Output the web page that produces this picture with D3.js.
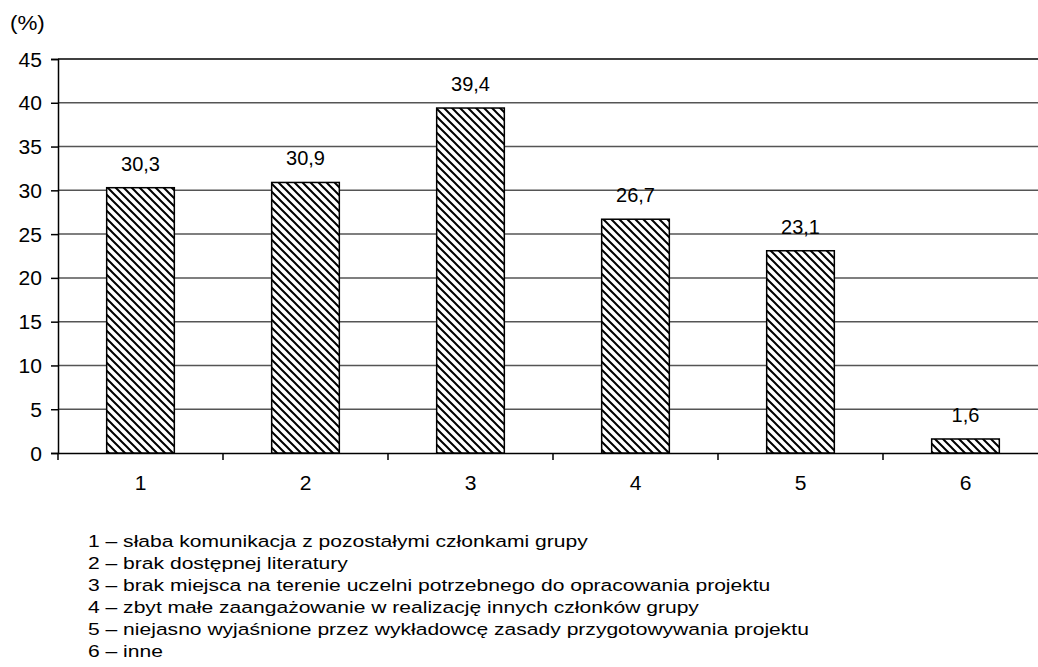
<!DOCTYPE html>
<html>
<head>
<meta charset="utf-8">
<script src="https://cdn.jsdelivr.net/npm/d3@7"></script>
<style>
  body { margin: 0; background: #fff; }
  svg { font-family: "Liberation Sans", Arial, sans-serif; }
</style>
</head>
<body>
<svg id="chart" width="1038" height="667"></svg>
<script>
// data
var categories = ["1", "2", "3", "4", "5", "6"];
var values = [30.3, 30.9, 39.4, 26.7, 23.1, 1.6];
var yTicks = [0, 5, 10, 15, 20, 25, 30, 35, 40, 45];
var legendItems = [
  "1 – słaba komunikacja z pozostałymi członkami grupy",
  "2 – brak dostępnej literatury",
  "3 – brak miejsca na terenie uczelni potrzebnego do opracowania projektu",
  "4 – zbyt małe zaangażowanie w realizację innych członków grupy",
  "5 – niejasno wyjaśnione przez wykładowcę zasady przygotowywania projektu",
  "6 – inne"
];

var svg = d3.select("#chart"),
  mLeft = 58, mRight = 1048, mTop = 59, mBottom = 453;

var x = d3.scaleBand().domain(categories).range([mLeft, mRight]).paddingInner(0.59).paddingOuter(0.295);
var band = d3.scaleBand().domain(categories).range([mLeft, mRight]);
var y = d3.scaleLinear().domain([0, 45]).range([mBottom, mTop]);

// some text in the source is a little stretched sideways
function placeText(sel, tx, ty, size, sx) {
  sel.attr("x", 0).attr("y", 0)
    .attr("transform", function (d, i) {
      return "translate(" + tx(d, i) + "," + ty(d, i) + ") scale(" + sx + ",1)";
    })
    .attr("font-size", size).attr("fill", "#000")
    .attr("font-family", "Liberation Sans, Arial, sans-serif");
}

// hatch pattern
var pat = svg.append("defs").append("pattern")
  .attr("id", "hatch")
  .attr("patternUnits", "userSpaceOnUse")
  .attr("width", 8).attr("height", 8);
pat.append("rect").attr("width", 8).attr("height", 8).attr("fill", "#fff");
pat.append("path")
  .attr("d", "M-2,-2 L10,10 M-2,6 L2,10 M6,-2 L10,2")
  .attr("stroke", "#000").attr("stroke-width", 2);

// gridlines
svg.append("g").selectAll("line").data(yTicks.filter(function (d) { return d > 0; }))
  .enter().append("line")
  .attr("x1", mLeft).attr("x2", mRight)
  .attr("y1", function (d) { return y(d); })
  .attr("y2", function (d) { return y(d); })
  .attr("stroke", function (d) { return d === 45 ? "#000" : "#555"; })
  .attr("stroke-width", 1.5);

// y axis
var yAxis = svg.append("g")
  .attr("transform", "translate(" + mLeft + ",0)")
  .call(d3.axisLeft(y).tickValues(yTicks).tickSize(7));
yAxis.select(".domain").attr("stroke", "#000").attr("stroke-width", 1.5);
yAxis.selectAll(".tick line").attr("stroke", "#000").attr("stroke-width", 1.5);
placeText(yAxis.selectAll(".tick text").attr("dy", "0.36em"),
  function () { return -16; }, function () { return 0; }, 19.5, 1.08);

// x axis
var xAxis = svg.append("g")
  .attr("transform", "translate(0," + mBottom + ")")
  .call(d3.axisBottom(band).tickSize(0));
xAxis.select(".domain").attr("stroke", "#000").attr("stroke-width", 1.5);
placeText(xAxis.selectAll(".tick text").attr("dy", null),
  function () { return 0; }, function () { return 37; }, 19.5, 1.08);
// category separators below the axis
svg.append("g").selectAll("line").data(d3.range(categories.length + 1))
  .enter().append("line")
  .attr("x1", function (i) { return mLeft + i * band.bandwidth(); })
  .attr("x2", function (i) { return mLeft + i * band.bandwidth(); })
  .attr("y1", mBottom).attr("y2", mBottom + 7)
  .attr("stroke", "#000").attr("stroke-width", 1.5);

// bars
svg.append("g").selectAll("rect").data(values).enter().append("rect")
  .attr("x", function (d, i) { return x(categories[i]); })
  .attr("width", x.bandwidth())
  .attr("y", function (d) { return y(d); })
  .attr("height", function (d) { return y(0) - y(d); })
  .attr("fill", "url(#hatch)")
  .attr("stroke", "#000").attr("stroke-width", 1.5);

// value labels
placeText(svg.append("g").selectAll("text").data(values).enter().append("text")
  .attr("text-anchor", "middle")
  .text(function (d) { return String(d).replace(".", ","); }),
  function (d, i) { return x(categories[i]) + x.bandwidth() / 2; },
  function (d) { return y(d) - 17; }, 20, 1.0);

// unit label
placeText(svg.append("text").datum(0).text("(%)"),
  function () { return 10; }, function () { return 30; }, 20, 1.12);

// legend
placeText(svg.append("g").selectAll("text").data(legendItems).enter().append("text")
  .text(function (d) { return d; }),
  function () { return 88; },
  function (d, i) { return 547 + i * 22; }, 17, 1.24);
</script>
</body>
</html>
